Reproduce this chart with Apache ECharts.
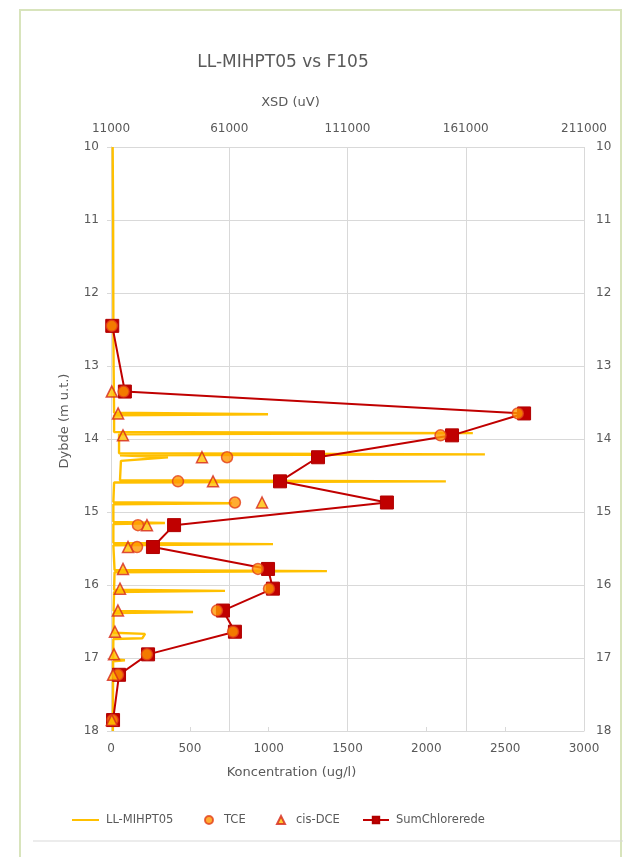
<!DOCTYPE html>
<html>
<head>
<meta charset="utf-8">
<script src="https://cdn.jsdelivr.net/npm/echarts@6/dist/echarts.min.js"></script>
<style>
  html, body { margin: 0; padding: 0; background: #ffffff; }
  #chart { width: 623px; height: 857px; }
</style>
</head>
<body>
<div id="chart"></div>
<script>
// Depth axis (m below terrain), shared by both vertical axes
const depthTicks = [10, 11, 12, 13, 14, 15, 16, 17, 18];
// Concentration axis ticks (ug/l)
const concTicks = [0, 500, 1000, 1500, 2000, 2500, 3000];
// XSD axis ticks (uV)
const xsdTicks = [11000, 61000, 111000, 161000, 211000];

// MIHPT XSD log: [XSD (uV), depth (m)]
const xsdProfile = [
  [11700, 10.00], [11900, 11.00], [12000, 12.40], [12100, 13.00], [12300, 13.64],
  [77400, 13.66], [12300, 13.675],
  [12300, 13.905], [164000, 13.92], [14400, 13.935],
  [14400, 14.195], [169100, 14.21], [14800, 14.225],
  [35100, 14.25], [15200, 14.30],
  [14800, 14.565], [152600, 14.58], [12300, 14.595],
  [12000, 14.865], [62200, 14.88], [12000, 14.895],
  [12000, 15.135], [33800, 15.15], [12000, 15.165],
  [12000, 15.425], [79500, 15.44], [12000, 15.455],
  [12500, 15.795], [102300, 15.81], [12500, 15.825],
  [12300, 16.065], [59200, 16.08], [12300, 16.095],
  [12100, 16.355], [45700, 16.37], [12100, 16.385],
  [12000, 16.655], [25400, 16.67], [24200, 16.73], [12000, 16.74],
  [11900, 17.015], [16900, 17.03], [11900, 17.045],
  [11800, 18.00]
];

// Water sample depths (m) and concentrations (ug/l)
const sampleDepths = [12.45, 13.35, 13.65, 13.95, 14.25, 14.58, 14.87, 15.18, 15.48, 15.78, 16.05, 16.35, 16.64, 16.95, 17.23, 17.85];
const tceValues    = [5, 80, 2580, 2090, 736, 425, 786, 171, 165, 932, 1002, 672, 774, 228, 44, 10];
const cisDceValues = [null, 5, 45, 76, 577, 647, 958, 228, 108, 76, 57, 44, 25, 19, 13, 5];
const sumValues    = [8, 88, 2620, 2163, 1313, 1072, 1750, 400, 266, 996, 1027, 710, 786, 235, 51, 13];

const xsdOrigin = xsdTicks[0];
const textColor = '#595959';
const gridColor = '#D9D9D9';
const font = 'DejaVu Sans';

const colors = {
  xsd: '#FFC000',
  sum: '#C00000',
  tceFill: '#FF9900', tceEdge: '#E2401B',
  dceFill: '#FFC000', dceEdge: '#D6261C'
};

function pairs(values) {
  const out = [];
  values.forEach((v, i) => { if (v !== null) out.push([v, sampleDepths[i]]); });
  return out;
}

// one legend block per entry so each key gets its own icon size
function legendEntry(name, left, w, h, extra) {
  return Object.assign({
    data: [name],
    left: left, top: 814,
    padding: 0,
    itemWidth: w, itemHeight: h,
    textStyle: { fontFamily: font, fontSize: 11.5, color: textColor, padding: [0, 0, 0, 2] },
    selectedMode: false
  }, extra || {});
}

const legendText = { fontFamily: font, fontSize: 11.5, color: textColor, padding: [0, 0, 0, 6] };

const chart = echarts.init(document.getElementById('chart'), null, { renderer: 'canvas' });

chart.setOption({
  backgroundColor: '#ffffff',
  animation: false,
  textStyle: { fontFamily: font },
  title: {
    text: 'LL-MIHPT05 vs F105',
    left: 278,
    textAlign: 'center',
    top: 49,
    textStyle: { fontFamily: font, fontSize: 17, fontWeight: 'normal', color: textColor }
  },
  graphic: [
    { type: 'rect', z: 0, shape: { x: 20, y: 10, width: 601, height: 900 },
      style: { fill: null, stroke: '#D8E4BC', lineWidth: 2 } },
    { type: 'line', z: 0, shape: { x1: 33, y1: 841, x2: 623, y2: 841 },
      style: { stroke: '#D9D9D9', lineWidth: 1 } }
  ],
  legend: [
    legendEntry('LL-MIHPT05', 72, 27, 2, { icon: 'rect' }),
    legendEntry('TCE', 204, 8, 8, { icon: 'circle', textStyle: legendText }),
    legendEntry('cis-DCE', 276, 8, 8, { icon: 'triangle', textStyle: legendText }),
    legendEntry('SumChlorerede', 362, 26, 8)
  ],
  grid: { left: 111, right: 39, top: 147, bottom: 126, containLabel: false },
  xAxis: [
    {
      type: 'value', position: 'bottom',
      min: concTicks[0], max: concTicks[concTicks.length - 1], interval: 500,
      name: 'Koncentration (ug/l)', nameLocation: 'middle', nameGap: 35,
      nameTextStyle: { fontFamily: font, fontSize: 13, color: textColor, padding: [0, 112, 0, 0] },
      axisLine: { show: true, lineStyle: { color: gridColor } },
      axisTick: { show: true, inside: true, length: 4, lineStyle: { color: gridColor } },
      axisLabel: { color: textColor, fontSize: 12, margin: 12, fontFamily: font,
                   formatter: v => String(v) },
      splitLine: { show: false }
    },
    {
      type: 'value', position: 'top',
      min: 0, max: xsdTicks[xsdTicks.length - 1] - xsdOrigin, interval: 50000,
      name: 'XSD (uV)', nameLocation: 'middle', nameGap: 38,
      nameTextStyle: { fontFamily: font, fontSize: 13, color: textColor, padding: [0, 114, 0, 0] },
      axisLine: { show: false },
      axisTick: { show: false },
      axisLabel: { color: textColor, fontSize: 12, margin: 12, fontFamily: font,
                   formatter: v => String(v + xsdOrigin) },
      splitLine: { show: true, lineStyle: { color: gridColor, width: 1 } }
    }
  ],
  yAxis: [
    {
      type: 'value', position: 'left', inverse: true,
      min: depthTicks[0], max: depthTicks[depthTicks.length - 1], interval: 1,
      name: 'Dybde (m u.t.)', nameLocation: 'middle', nameGap: 40, nameRotate: 90,
      nameTextStyle: { fontFamily: font, fontSize: 13, color: textColor, padding: [0, 0, 0, 36] },
      axisLine: { show: true, lineStyle: { color: gridColor } },
      axisTick: { show: true, length: 4, lineStyle: { color: gridColor } },
      axisLabel: { color: textColor, fontSize: 12, margin: 12, fontFamily: font },
      splitLine: { show: true, lineStyle: { color: gridColor, width: 1 } }
    },
    {
      type: 'value', position: 'right', inverse: true,
      min: depthTicks[0], max: depthTicks[depthTicks.length - 1], interval: 1,
      axisLine: { show: true, lineStyle: { color: gridColor } },
      axisTick: { show: true, length: 5, lineStyle: { color: gridColor } },
      axisLabel: { color: textColor, fontSize: 12, margin: 12, fontFamily: font },
      splitLine: { show: false }
    }
  ],
  series: [
    {
      name: 'LL-MIHPT05', type: 'line',
      xAxisIndex: 1, yAxisIndex: 0,
      data: xsdProfile.map(p => [p[0] - xsdOrigin, p[1]]),
      showSymbol: false, symbol: 'none',
      lineStyle: { color: colors.xsd, width: 2.4 },
      itemStyle: { color: colors.xsd },
      z: 2
    },
    {
      name: 'SumChlorerede', type: 'line',
      xAxisIndex: 0, yAxisIndex: 0,
      data: pairs(sumValues),
      symbol: 'rect', symbolSize: 13,
      lineStyle: { color: colors.sum, width: 2 },
      itemStyle: { color: colors.sum, borderColor: '#B00000', borderWidth: 1 },
      z: 3
    },
    {
      name: 'TCE', type: 'scatter',
      xAxisIndex: 0, yAxisIndex: 0,
      data: pairs(tceValues),
      symbol: 'circle', symbolSize: 11,
      itemStyle: { color: colors.tceFill, borderColor: colors.tceEdge, borderWidth: 1.5 },
      z: 4
    },
    {
      name: 'cis-DCE', type: 'scatter',
      xAxisIndex: 0, yAxisIndex: 0,
      data: pairs(cisDceValues),
      symbol: 'triangle', symbolSize: 11,
      itemStyle: { color: colors.dceFill, borderColor: colors.dceEdge, borderWidth: 1.5 },
      z: 5
    }
  ]
});
</script>
</body>
</html>
